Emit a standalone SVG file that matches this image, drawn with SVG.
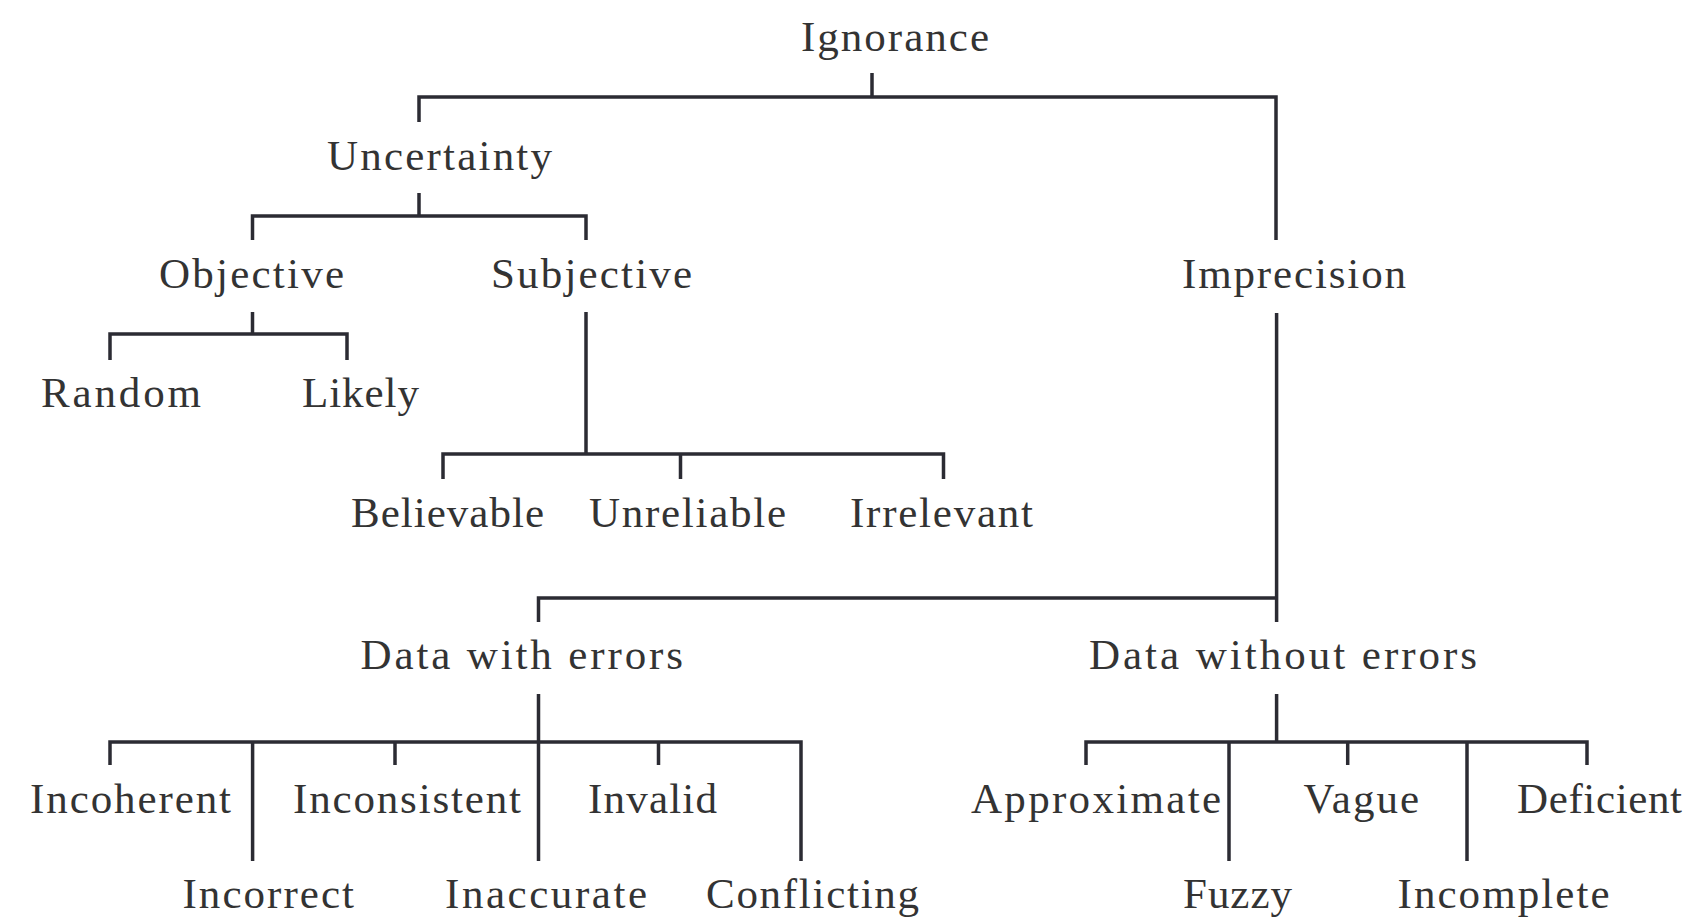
<svg xmlns="http://www.w3.org/2000/svg" width="1696" height="919" viewBox="0 0 1696 919">
<style>
.t{font-family:"Liberation Serif","Times New Roman",serif;font-size:43px;fill:#333333;}
.c{fill:none;stroke:#2b2b33;stroke-width:3.5;stroke-linecap:butt;stroke-linejoin:miter;}
</style>
<rect width="1696" height="919" fill="#ffffff"/>
<g id="connectors">
<path class="c" d="M872,73V97M419,122V97H1276V240"/>
<path class="c" d="M419,193V216M252.5,240V216H586V240"/>
<path class="c" d="M252.5,312V334M110,360V334H347V360"/>
<path class="c" d="M586,312V454M443,479V454H943.5V479M680.5,454V479"/>
<path class="c" d="M1276.6,313V622M538.5,622V598H1276.6"/>
<path class="c" d="M538.5,694V861M110,765V742H801V861M395,742V765M658.5,742V765M252.6,742V861"/>
<path class="c" d="M1276.6,694V742M1086,765V742H1587V765M1347.7,742V765M1229,742V861M1467,742V861"/>
</g>
<g id="n-ignorance"><text class="t" x="801" y="51" textLength="188" lengthAdjust="spacing">Ignorance</text></g>
<g id="n-uncertainty"><text class="t" x="327" y="170" textLength="225" lengthAdjust="spacing">Uncertainty</text></g>
<g id="n-objective"><text class="t" x="159" y="288" textLength="185" lengthAdjust="spacing">Objective</text></g>
<g id="n-subjective"><text class="t" x="491" y="288" textLength="201" lengthAdjust="spacing">Subjective</text></g>
<g id="n-imprecision"><text class="t" x="1182" y="288" textLength="224" lengthAdjust="spacing">Imprecision</text></g>
<g id="n-random"><text class="t" x="41" y="407" textLength="160" lengthAdjust="spacing">Random</text></g>
<g id="n-likely"><text class="t" x="302" y="407" textLength="117" lengthAdjust="spacing">Likely</text></g>
<g id="n-believable"><text class="t" x="351" y="527" textLength="193" lengthAdjust="spacing">Believable</text></g>
<g id="n-unreliable"><text class="t" x="589" y="527" textLength="197" lengthAdjust="spacing">Unreliable</text></g>
<g id="n-irrelevant"><text class="t" x="850" y="527" textLength="183" lengthAdjust="spacing">Irrelevant</text></g>
<g id="n-data-with-errors"><text class="t" x="360.5" y="669" textLength="322.5" lengthAdjust="spacing">Data with errors</text></g>
<g id="n-data-without-errors"><text class="t" x="1089" y="669" textLength="388" lengthAdjust="spacing">Data without errors</text></g>
<g id="n-incoherent"><text class="t" x="30" y="813" textLength="201" lengthAdjust="spacing">Incoherent</text></g>
<g id="n-inconsistent"><text class="t" x="293" y="813" textLength="228" lengthAdjust="spacing">Inconsistent</text></g>
<g id="n-invalid"><text class="t" x="588" y="813" textLength="129" lengthAdjust="spacing">Invalid</text></g>
<g id="n-approximate"><text class="t" x="971" y="813" textLength="250" lengthAdjust="spacing">Approximate</text></g>
<g id="n-vague"><text class="t" x="1303.5" y="813" textLength="115.5" lengthAdjust="spacing">Vague</text></g>
<g id="n-deficient"><text class="t" x="1517" y="813" textLength="165" lengthAdjust="spacing">Deficient</text></g>
<g id="n-incorrect"><text class="t" x="182.5" y="908" textLength="171.5" lengthAdjust="spacing">Incorrect</text></g>
<g id="n-inaccurate"><text class="t" x="445" y="908" textLength="202" lengthAdjust="spacing">Inaccurate</text></g>
<g id="n-conflicting"><text class="t" x="706" y="908" textLength="213" lengthAdjust="spacing">Conflicting</text></g>
<g id="n-fuzzy"><text class="t" x="1183" y="908" textLength="109" lengthAdjust="spacing">Fuzzy</text></g>
<g id="n-incomplete"><text class="t" x="1397.5" y="908" textLength="212" lengthAdjust="spacing">Incomplete</text></g>
</svg>
